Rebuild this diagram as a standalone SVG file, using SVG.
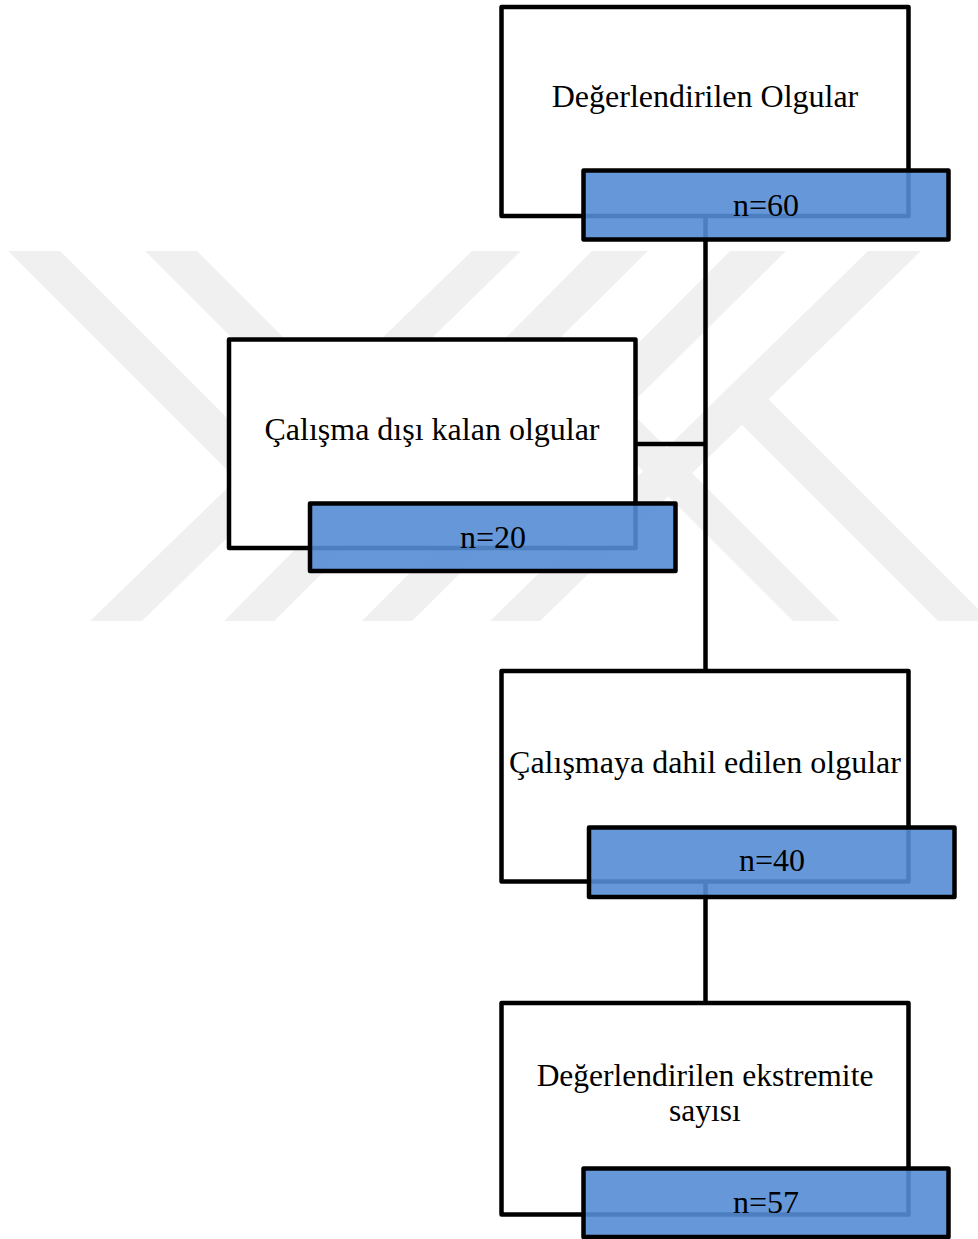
<svg xmlns="http://www.w3.org/2000/svg" width="978" height="1239" viewBox="0 0 978 1239">
<style>
.wm{fill:#f0f0f0}
.box{fill:#ffffff;stroke:#000000;stroke-width:4.5;stroke-linejoin:round}
.cnt{fill:#558dd5;fill-opacity:0.9;stroke:#000000;stroke-width:4.5;stroke-linejoin:round}
.lbl{font-family:"Liberation Serif","Times New Roman",serif;font-size:32px;fill:#000000;text-anchor:middle}
.con{stroke:#000000;stroke-width:4.5;fill:none}
</style>
<rect width="978" height="1239" fill="#ffffff"/>
<g id="watermark">
<polygon class="wm" points="472,251 521,251 142,621 90,621"/>
<polygon class="wm" points="592,251 648,251 274,621 224,621"/>
<polygon class="wm" points="730,251 786,251 412,621 362,621"/>
<polygon class="wm" points="868,251 921,251 540,621 490,621"/>
<polygon class="wm" points="8,251 60,251 275,466 249,492"/>
<polygon class="wm" points="145,251 197,251 408,462 382,488"/>
<polygon class="wm" points="793,621 840,621 614,395 590,418"/>
<polygon class="wm" points="938,621 990,621 755.5,386.5 729,412"/>
</g>
<g id="connectors">
<path class="con" d="M705.5,216 V671"/>
<path class="con" d="M635.5,444 H705.5"/>
<path class="con" d="M705.5,882 V1003"/>
</g>
<g id="node-degerlendirilen-olgular">
<rect class="box" x="501.5" y="7" width="407" height="209"/>
<text class="lbl" x="705" y="107">Değerlendirilen Olgular</text>
<rect class="cnt" x="583.5" y="170.5" width="365" height="69"/>
<text class="lbl" x="766" y="216">n=60</text>
</g>
<g id="node-calisma-disi">
<rect class="box" x="229" y="339.5" width="406.5" height="208.5"/>
<text class="lbl" x="432" y="440">Çalışma dışı kalan olgular</text>
<rect class="cnt" x="310" y="503.5" width="365.5" height="67.5"/>
<text class="lbl" x="493" y="548">n=20</text>
</g>
<g id="node-calismaya-dahil">
<rect class="box" x="501.5" y="671" width="407" height="210.5"/>
<text class="lbl" x="705" y="773">Çalışmaya dahil edilen olgular</text>
<rect class="cnt" x="589" y="827.5" width="365.5" height="69.5"/>
<text class="lbl" x="772" y="871">n=40</text>
</g>
<g id="node-ekstremite">
<rect class="box" x="501.5" y="1003" width="407" height="211.5"/>
<text class="lbl" x="705" y="1086" style="font-size:31.5px">Değerlendirilen ekstremite</text>
<text class="lbl" x="705" y="1121" style="font-size:31.5px">sayısı</text>
<rect class="cnt" x="583.5" y="1168.5" width="365" height="68.5"/>
<text class="lbl" x="766" y="1212.5">n=57</text>
</g>
</svg>
